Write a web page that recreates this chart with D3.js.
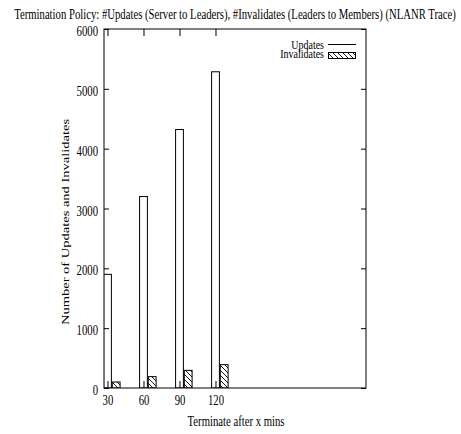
<!DOCTYPE html>
<html>
<head>
<meta charset="utf-8">
<script src="https://cdn.jsdelivr.net/npm/d3@7"></script>
<style>
  body { margin: 0; background: #fff; }
  svg { display: block; }
</style>
</head>
<body>
<svg id="chart" width="461" height="434"></svg>
<script>
// Termination policy results (NLANR trace)
const terminateMins = [30, 60, 90, 120];
const updates = [1900, 3200, 4320, 5285];
const invalidates = [100, 190, 295, 390];
const yTicks = [0, 1000, 2000, 3000, 4000, 5000, 6000];
const xTicks = [30, 60, 90, 120];
const seriesNames = ["Updates", "Invalidates"];

const plot = { left: 104, right: 366, top: 29, bottom: 388 };
const squeeze = 0.74; // horizontal text compression
const fontSize = 14.5;
const serif = "'Liberation Serif', 'Times New Roman', Times, 'Nimbus Roman', 'DejaVu Serif', serif";

const svg = d3.select("#chart");

const x = d3.scaleLinear().domain([27.1, 245.4]).range([plot.left, plot.right]);
const y = d3.scaleLinear().domain([0, 6000]).range([plot.bottom, plot.top]);

// hatch pattern for the invalidates bars
const defs = svg.append("defs");
const pat = defs.append("pattern")
  .attr("id", "hatch")
  .attr("patternUnits", "userSpaceOnUse")
  .attr("width", 5).attr("height", 5);
pat.append("rect").attr("width", 5).attr("height", 5).attr("fill", "#fff");
pat.append("path")
  .attr("d", "M-1,-1 L6,6 M-1,4 L1,6 M4,-1 L6,1")
  .attr("stroke", "#000").attr("stroke-width", 0.9);

defs.append("clipPath").attr("id", "plotClip")
  .append("rect")
  .attr("x", plot.left).attr("y", plot.top)
  .attr("width", plot.right - plot.left).attr("height", plot.bottom - plot.top);

function squeezeText(sel, k) {
  sel.each(function () {
    const len = this.getComputedTextLength();
    d3.select(this).attr("textLength", len * k).attr("lengthAdjust", "spacingAndGlyphs");
  });
}

// horizontally compressed text placed at (cx, cy) and fitted to a given width
function fittedText(parent, cx, cy, str, width) {
  const t = parent.append("text").attr("text-anchor", "middle").text(str);
  const k = width / t.node().getComputedTextLength();
  t.attr("transform", `translate(${cx},${cy}) scale(${k},1)`);
  return t;
}

// bars
const bw = 6.5;
const bars = svg.append("g").attr("clip-path", "url(#plotClip)");
bars.selectAll("rect.upd").data(terminateMins).join("rect")
  .attr("class", "upd")
  .attr("x", d => x(d - bw / 2))
  .attr("width", d => x(d + bw / 2) - x(d - bw / 2))
  .attr("y", (d, i) => y(updates[i]))
  .attr("height", (d, i) => y(0) - y(updates[i]))
  .attr("fill", "#fff").attr("stroke", "#000").attr("stroke-width", 1);

bars.selectAll("rect.inv").data(terminateMins).join("rect")
  .attr("class", "inv")
  .attr("x", d => x(d + 4))
  .attr("width", d => x(d + 4 + bw) - x(d + 4))
  .attr("y", (d, i) => y(invalidates[i]))
  .attr("height", (d, i) => y(0) - y(invalidates[i]))
  .attr("fill", "url(#hatch)").attr("stroke", "#000").attr("stroke-width", 1);

// axes with inward ticks on all four sides
const axL = svg.append("g").attr("transform", `translate(${plot.left},0)`)
  .call(d3.axisLeft(y).tickValues(yTicks).tickSize(-5).tickPadding(6).tickFormat(d3.format("d")));
const axR = svg.append("g").attr("transform", `translate(${plot.right},0)`)
  .call(d3.axisRight(y).tickValues(yTicks).tickSize(-5).tickFormat(""));
const axB = svg.append("g").attr("transform", `translate(0,${plot.bottom})`)
  .call(d3.axisBottom(x).tickValues(xTicks).tickSize(-7).tickPadding(7).tickFormat(d3.format("d")));
const axT = svg.append("g").attr("transform", `translate(0,${plot.top})`)
  .call(d3.axisTop(x).tickValues(xTicks).tickSize(-7).tickFormat(""));

[axL, axR, axB, axT].forEach(g => {
  g.attr("font-family", serif).attr("font-size", fontSize);
  g.select(".domain").remove();
  g.selectAll(".tick line").attr("stroke", "#000");
  g.selectAll("text").attr("fill", "#000");
});
axL.selectAll("text").attr("dy", "0.45em");
squeezeText(axL.selectAll("text"), squeeze);
squeezeText(axB.selectAll("text"), squeeze);

// frame
svg.append("rect")
  .attr("x", plot.left).attr("y", plot.top)
  .attr("width", plot.right - plot.left).attr("height", plot.bottom - plot.top)
  .attr("fill", "none").attr("stroke", "#000").attr("stroke-width", 1);

const labels = svg.append("g").attr("font-family", serif).attr("font-size", fontSize).attr("fill", "#000");

// title
fittedText(labels, 235, 19,
  "Termination Policy: #Updates (Server to Leaders), #Invalidates (Leaders to Members) (NLANR Trace)", 442);

// x label
fittedText(labels, 236, 426, "Terminate after x mins", 97);

// y label (rotated, glyphs compressed across)
labels.append("text")
  .attr("transform", `translate(69,222) scale(${squeeze},1) rotate(-90)`)
  .attr("text-anchor", "middle")
  .text("Number of Updates and Invalidates");

// legend
const lg = svg.append("g").attr("font-family", serif).attr("font-size", 13.5);
lg.append("text").attr("x", 324).attr("y", 48.5).attr("text-anchor", "end")
  .text(seriesNames[0]).call(squeezeText, squeeze);
lg.append("line").attr("x1", 328).attr("x2", 356).attr("y1", 44.5).attr("y2", 44.5)
  .attr("stroke", "#000").attr("stroke-width", 1);
lg.append("text").attr("x", 324).attr("y", 58).attr("text-anchor", "end")
  .text(seriesNames[1]).call(squeezeText, squeeze);
lg.append("rect").attr("x", 328.5).attr("y", 52.5).attr("width", 27).attr("height", 6)
  .attr("fill", "url(#hatch)").attr("stroke", "#000").attr("stroke-width", 1);
</script>
</body>
</html>
